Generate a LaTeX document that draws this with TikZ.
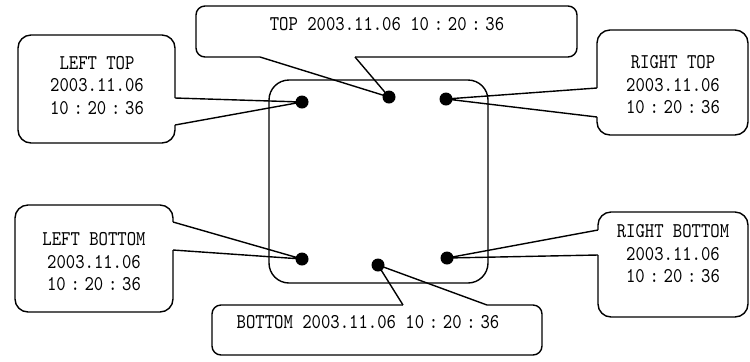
\documentclass[tikz,border=0pt]{standalone}
\usepackage{fontspec}
\usetikzlibrary{calc}
\newfontfamily\stampfont{Latin Modern Mono}[FakeStretch=0.85]
\newcommand\tcolon{\makebox[9.4pt]{:}}

\tikzset{
  balloon/.style={draw, rectangle, rounded corners=6.5pt, inner sep=0pt, outer sep=0pt},
  stamp/.style={align=center, inner sep=0pt, font=\stampfont\fontsize{10.5}{11.25}\selectfont},
  dot/.style={circle, fill=black, inner sep=0pt, minimum size=6.5pt},
  gap/.style={white, line width=1.6pt},
}

\begin{document}
\begin{tikzpicture}[x=0.5pt, y=-0.5pt, line width=0.7pt]
  \useasboundingbox (0,0) rectangle (750,361);

  % screen outline
  \node[draw, rectangle, rounded corners=10pt, minimum width=109.5pt, minimum height=101.5pt,
    inner sep=0pt, outer sep=0pt] (screen) at (378.5,181.5) {};

  % balloons
  \node[balloon, minimum width=78.5pt, minimum height=54pt] (blt) at (96.5,89) {};
  \node[balloon, minimum width=75.5pt, minimum height=52.5pt] (brt) at (672.5,82.5) {};
  \node[balloon, minimum width=79pt, minimum height=53.5pt] (blb) at (94,258.5) {};
  \node[balloon, minimum width=75pt, minimum height=52.5pt] (brb) at (673,264.5) {};
  \node[balloon, rounded corners=4.5pt, minimum width=190.5pt, minimum height=25.5pt] (bt) at (386.5,31.5) {};
  \node[balloon, rounded corners=4.5pt, minimum width=165pt, minimum height=25pt] (bb) at (377,330) {};

  % texts
  \node[stamp] (tlt) at (97,85.5) {LEFT TOP\\2003.11.06\\10\tcolon20\tcolon36};
  \node[stamp] (trt) at (673,85) {RIGHT TOP\\2003.11.06\\10\tcolon20\tcolon36};
  \node[stamp] (tlb) at (94,262) {LEFT BOTTOM\\2003.11.06\\10\tcolon20\tcolon36};
  \node[stamp] (trb) at (673,254) {RIGHT BOTTOM\\2003.11.06\\10\tcolon20\tcolon36};
  \node[stamp] (tt) at (387,24) {TOP 2003.11.06 10\tcolon20\tcolon36};
  \node[stamp] (tb) at (368,322) {BOTTOM 2003.11.06 10\tcolon20\tcolon36};

  % points on the screen
  \node[dot] (dlt) at (302,102) {};
  \node[dot] (dt) at (389,97) {};
  \node[dot] (drt) at (446,99) {};
  \node[dot] (dlb) at (302,259) {};
  \node[dot] (db) at (378,265) {};
  \node[dot] (drb) at (447,258) {};

  % pointer bases on the balloon edges
  \coordinate (ltA) at (175,98);  \coordinate (ltB) at (175,125);
  \coordinate (tA) at (260,57);   \coordinate (tB) at (355,57);
  \coordinate (rtA) at (597,88);  \coordinate (rtB) at (597,117);
  \coordinate (lbA) at (173,222); \coordinate (lbB) at (173,250);
  \coordinate (rbA) at (598,230); \coordinate (rbB) at (598,255);
  \coordinate (bA) at (403,305);  \coordinate (bB) at (487,305);

  \foreach \a/\d/\b in {ltA/dlt/ltB, tA/dt/tB, rtA/drt/rtB, lbA/dlb/lbB, rbA/drb/rbB, bA/db/bB} {
    \draw[gap] (\a) -- (\b);
    \draw (\a) -- (\d.center) -- (\b);
  }
\end{tikzpicture}
\end{document}
